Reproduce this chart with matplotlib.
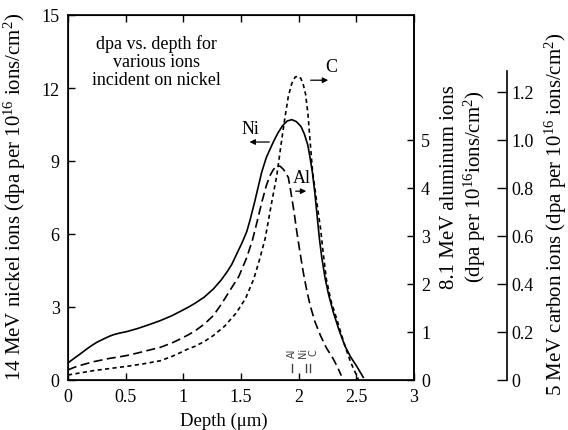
import matplotlib
matplotlib.use('Agg')
import matplotlib.pyplot as plt

plt.rcParams['font.family'] = ['Liberation Serif', 'DejaVu Serif']
plt.rcParams['mathtext.fontset'] = 'custom'
plt.rcParams['mathtext.rm'] = 'Liberation Serif'
plt.rcParams['mathtext.it'] = 'Liberation Serif:italic'
plt.rcParams['lines.scale_dashes'] = False

# depth (um) and dpa values
ni_depth = [0.00, 0.05, 0.10, 0.15, 0.20, 0.25, 0.31, 0.36, 0.40, 0.45, 0.51, 0.60, 0.70,
            0.80, 0.90, 0.97, 1.05, 1.10, 1.18, 1.26, 1.33, 1.38, 1.42, 1.47, 1.51, 1.55,
            1.58, 1.62, 1.65, 1.68, 1.72, 1.78, 1.82, 1.86, 1.90, 1.94, 1.98, 2.02, 2.05,
            2.08, 2.10, 2.12, 2.14, 2.16, 2.18, 2.20, 2.23, 2.26, 2.30, 2.35, 2.40, 2.45,
            2.50, 2.53, 2.56]
ni_dpa = [0.70, 0.88, 1.05, 1.23, 1.40, 1.55, 1.69, 1.80, 1.87, 1.93, 1.99, 2.11, 2.27,
          2.44, 2.64, 2.81, 3.01, 3.15, 3.40, 3.74, 4.12, 4.45, 4.75, 5.25, 5.65, 6.10,
          6.60, 7.35, 7.95, 8.55, 9.15, 9.78, 10.15, 10.45, 10.64, 10.70, 10.62, 10.42, 10.10,
          9.64, 9.10, 8.50, 7.70, 6.75, 5.80, 5.05, 4.16, 3.50, 2.79, 2.05, 1.41, 0.95,
          0.59, 0.35, 0.11]

al_depth = [0.00, 0.05, 0.10, 0.16, 0.22, 0.30, 0.36, 0.44, 0.51, 0.60, 0.70, 0.80, 0.90,
            0.97, 1.05, 1.10, 1.18, 1.26, 1.33, 1.40, 1.48, 1.55, 1.60, 1.64, 1.68, 1.72,
            1.75, 1.78, 1.81, 1.84, 1.87, 1.91, 1.93, 1.96, 1.98, 2.01, 2.04, 2.07, 2.10,
            2.14, 2.19, 2.24, 2.30, 2.34, 2.37]
al_dpa = [0.21, 0.26, 0.30, 0.34, 0.38, 0.42, 0.45, 0.48, 0.51, 0.56, 0.62, 0.68, 0.77,
          0.85, 0.95, 1.02, 1.16, 1.34, 1.58, 1.85, 2.15, 2.55, 2.92, 3.30, 3.70, 4.05,
          4.25, 4.38, 4.46, 4.45, 4.38, 4.22, 3.95, 3.50, 3.15, 2.68, 2.24, 1.87, 1.55,
          1.22, 0.92, 0.67, 0.44, 0.25, 0.09]

c_depth = [0.00, 0.10, 0.22, 0.35, 0.51, 0.65, 0.80, 0.90, 0.97, 1.03, 1.10, 1.18, 1.26,
           1.36, 1.46, 1.54, 1.61, 1.66, 1.71, 1.74, 1.77, 1.81, 1.85, 1.88, 1.91, 1.94,
           1.97, 2.00, 2.02, 2.04, 2.06, 2.08, 2.10, 2.12, 2.14, 2.16, 2.19, 2.21, 2.24,
           2.28, 2.33, 2.37, 2.41, 2.45, 2.49, 2.52]
c_dpa = [0.021, 0.029, 0.039, 0.047, 0.057, 0.067, 0.080, 0.098, 0.113, 0.127, 0.140, 0.160,
         0.185, 0.225, 0.280, 0.340, 0.420, 0.500, 0.590, 0.670, 0.750, 0.850, 0.990, 1.090,
         1.180, 1.235, 1.262, 1.265, 1.255, 1.230, 1.190, 1.110, 0.990, 0.870, 0.800, 0.730,
         0.630, 0.540, 0.420, 0.330, 0.254, 0.190, 0.130, 0.075, 0.032, 0.0]

# projected range markers
range_ions = ['Al', 'Ni', 'C']
range_depth = [1.94, 2.06, 2.10]
range_text_x = [1.94, 2.04, 2.125]

fig = plt.figure(figsize=(5.68, 4.31), dpi=100)
ax = fig.add_axes([68/568, 50/431, 346/568, 365/431])
ax_al = ax.twinx()
ax_c = ax.twinx()

ax.plot(ni_depth, ni_dpa, color='black', lw=1.2)
ax_al.plot(al_depth, al_dpa, color='black', lw=1.2, dashes=(6.5, 3.2))
ax_c.plot(c_depth, c_dpa, color='black', lw=1.2, dashes=(3, 2.4))

ax.set_xlim(0, 3)
ax.set_ylim(0, 15)
ax_al.set_ylim(0, 7.6)
ax_c.set_ylim(0, 1.52)

ax.set_xticks([0, 0.5, 1, 1.5, 2, 2.5, 3])
ax.set_xticklabels(['0', '0.5', '1', '1.5', '2', '2.5', '3'])
ax.set_yticks([0, 3, 6, 9, 12, 15])
ax_al.set_yticks([0, 1, 2, 3, 4, 5])
ax_c.set_yticks([0, 0.2, 0.4, 0.6, 0.8, 1.0, 1.2])
ax_c.set_yticklabels(['0', '0.2', '0.4', '0.6', '0.8', '1.0', '1.2'])

ax.tick_params(axis='x', direction='in', top=True, length=5, width=1, labelsize=13, pad=6)
ax.tick_params(axis='y', direction='in', right=False, length=5, width=1, labelsize=13, pad=6)
ax_al.tick_params(axis='y', direction='in', length=5, width=1, labelsize=13, pad=5)
ax_c.tick_params(axis='y', direction='in', length=7, width=1, labelsize=13, pad=3)

for s in ax.spines.values():
    s.set_linewidth(1.2)
ax_al.spines['right'].set_linewidth(1.2)
for k in ['left', 'top', 'bottom']:
    ax_c.spines[k].set_visible(False)
ax_c.spines['right'].set_position(('outward', 93 * 0.72))
ax_c.spines['right'].set_bounds(0, 1.285)
ax_c.spines['right'].set_linewidth(1.2)

# axis labels
fig.text(224/568, 1 - 421/431, 'Depth (μm)', ha='center', va='center', fontsize=13.5)
fig.text(15/568, 1 - 197/431, '14 MeV nickel ions (dpa per 10$^{16}$ ions/cm$^{2}$)',
         rotation=90, ha='center', va='center', fontsize=15)
fig.text(464/568, 1 - 187/431, '8.1 MeV aluminum ions\n(dpa per 10$^{16}$ions/cm$^{2}$)',
         rotation=90, ha='center', va='center', fontsize=15, linespacing=1.1,
         multialignment='center')
fig.text(556/568, 1 - 214/431, '5 MeV carbon ions (dpa per 10$^{16}$ ions/cm$^{2}$)',
         rotation=90, ha='center', va='center', fontsize=15)

ax.text(0.77, 13.1, 'dpa vs. depth for\nvarious ions\nincident on nickel',
        ha='center', va='center', fontsize=13, linespacing=1.1)

# curve labels with arrows
ax.text(1.58, 10.35, 'Ni', ha='center', va='center', fontsize=13)
ax.annotate('', xy=(1.55, 9.78), xytext=(1.77, 9.78),
            arrowprops=dict(arrowstyle='-|>', color='black', lw=0.9, mutation_scale=8))
ax.text(2.03, 8.34, 'Al', ha='center', va='center', fontsize=13)
ax.annotate('', xy=(2.09, 7.76), xytext=(1.95, 7.76),
            arrowprops=dict(arrowstyle='-|>', color='black', lw=0.9, mutation_scale=8))
ax.text(2.28, 12.88, 'C', ha='center', va='center', fontsize=13)
ax.annotate('', xy=(2.28, 12.32), xytext=(2.08, 12.32),
            arrowprops=dict(arrowstyle='-|>', color='black', lw=0.9, mutation_scale=8))

for name, d, tx in zip(range_ions, range_depth, range_text_x):
    ax.plot([d, d], [0.33, 0.66], color='#444444', lw=1.0)
    ax.text(tx, 1.15, name, rotation=90, ha='center', va='center', fontsize=7,
            family='DejaVu Sans', color='#444444')

fig.savefig('out.png', dpi=100)
